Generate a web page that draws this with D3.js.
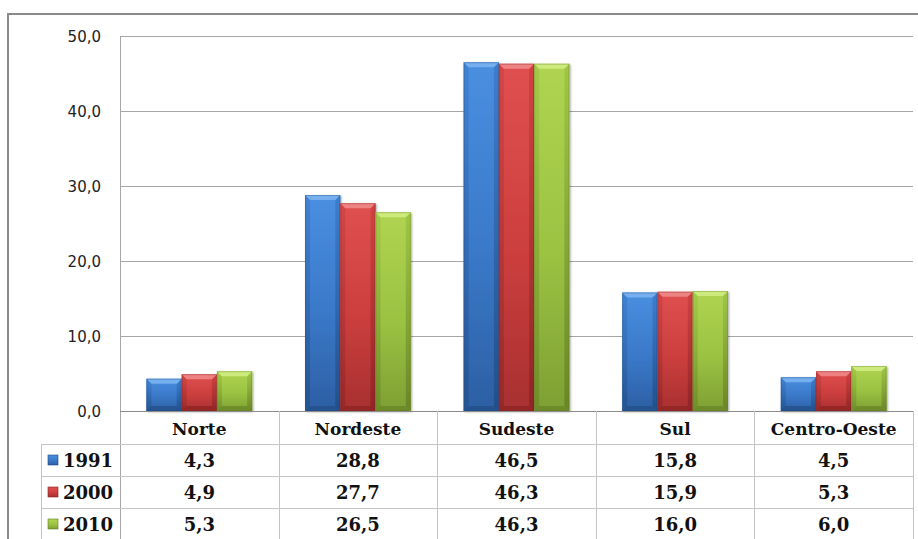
<!DOCTYPE html>
<html>
<head>
<meta charset="utf-8">
<script src="https://cdn.jsdelivr.net/npm/d3@7"></script>
<style>
  html, body { margin: 0; padding: 0; background: #fff; }
  svg { display: block; }
</style>
</head>
<body>
<svg id="chart" width="918" height="539"></svg>
<script>
// Regional share by year (%)
const regions = ["Norte", "Nordeste", "Sudeste", "Sul", "Centro-Oeste"];
const years = ["1991", "2000", "2010"];
const values1991 = [4.3, 28.8, 46.5, 15.8, 4.5];
const values2000 = [4.9, 27.7, 46.3, 15.9, 5.3];
const values2010 = [5.3, 26.5, 46.3, 16.0, 6.0];
const yTicks = [0, 10, 20, 30, 40, 50];

const seriesValues = [values1991, values2000, values2010];
const palette = [
  { top: "#4a8fe0", mid: "#3a78c8", bot: "#2c5fa3", edge: "#1f4a82", cap: "#7ab2f0" },
  { top: "#e05050", mid: "#cc3e3e", bot: "#a83030", edge: "#862222", cap: "#f08888" },
  { top: "#b0d452", mid: "#9bc242", bot: "#7e9f33", edge: "#627d24", cap: "#d0ec80" }
];

const svg = d3.select("#chart");
const plot = { left: 120, right: 913, top: 36, bottom: 411 };
const tableLeft = 41, rowH = 32;

const x = d3.scaleBand().domain(regions).range([plot.left, plot.right]).paddingInner(0).paddingOuter(0);
const xs = d3.scaleBand().domain(years).range([0, x.bandwidth()]).paddingInner(0).paddingOuter(0.75);
const y = d3.scaleLinear().domain([0, 50]).range([plot.bottom, plot.top]);
const fmt = v => d3.format(".1f")(v).replace(".", ",");

const defs = svg.append("defs");
palette.forEach((p, i) => {
  const g = defs.append("linearGradient").attr("id", "face" + i)
    .attr("x1", 0).attr("y1", 0).attr("x2", 0).attr("y2", 1);
  g.append("stop").attr("offset", "0%").attr("stop-color", p.top);
  g.append("stop").attr("offset", "55%").attr("stop-color", p.mid);
  g.append("stop").attr("offset", "100%").attr("stop-color", p.bot);
  const s = defs.append("linearGradient").attr("id", "side" + i)
    .attr("x1", 0).attr("y1", 0).attr("x2", 0).attr("y2", 1);
  s.append("stop").attr("offset", "0%").attr("stop-color", p.mid);
  s.append("stop").attr("offset", "100%").attr("stop-color", p.edge);
});
const sh = defs.append("filter").attr("id", "shadow").attr("x", "-20%").attr("y", "-20%").attr("width", "140%").attr("height", "140%");
sh.append("feDropShadow").attr("dx", 1).attr("dy", 1).attr("stdDeviation", 1.2).attr("flood-color", "#000").attr("flood-opacity", 0.35);

// outer frame
svg.append("path").attr("d", "M8,539 V14 H918")
  .attr("fill", "none").attr("stroke", "#8a8a8a").attr("stroke-width", 2);

// gridlines
svg.append("g").selectAll("line").data(yTicks.filter(t => t > 0)).join("line")
  .attr("x1", plot.left).attr("x2", plot.right)
  .attr("y1", d => Math.round(y(d)) + 0.5).attr("y2", d => Math.round(y(d)) + 0.5)
  .attr("stroke", "#a6a6a6").attr("stroke-width", 1);

// y axis labels
svg.append("g").selectAll("text").data(yTicks).join("text")
  .attr("x", 101).attr("y", d => y(d) + 1)
  .attr("text-anchor", "end").attr("dominant-baseline", "middle")
  .attr("font-family", "'DejaVu Sans', Verdana, sans-serif").attr("font-size", 15)
  .attr("fill", "#222").text(d => fmt(d));

// bars with bevelled faces
const bars = svg.append("g");
regions.forEach((r, ci) => {
  years.forEach((yr, si) => {
    const v = seriesValues[si][ci];
    const x0 = x(r) + xs(yr), w = xs.bandwidth();
    const y0 = y(v), y1 = y(0);
    const b = Math.min(5, (y1 - y0) / 3);
    const p = palette[si];
    const g = bars.append("g").attr("filter", "url(#shadow)");
    g.append("rect").attr("x", x0).attr("y", y0).attr("width", w).attr("height", y1 - y0)
      .attr("fill", `url(#face${si})`);
    // left and right bevel edges
    g.append("polygon").attr("points", [[x0, y0], [x0 + b, y0 + b], [x0 + b, y1 - b], [x0, y1]].join(" "))
      .attr("fill", `url(#side${si})`).attr("opacity", 0.55);
    g.append("polygon").attr("points", [[x0 + w, y0], [x0 + w - b, y0 + b], [x0 + w - b, y1 - b], [x0 + w, y1]].join(" "))
      .attr("fill", `url(#side${si})`).attr("opacity", 0.75);
    // top cap highlight
    g.append("polygon").attr("points", [[x0, y0], [x0 + w, y0], [x0 + w - b, y0 + b], [x0 + b, y0 + b]].join(" "))
      .attr("fill", p.cap).attr("opacity", 0.9);
    // bottom edge
    g.append("polygon").attr("points", [[x0, y1], [x0 + w, y1], [x0 + w - b, y1 - b], [x0 + b, y1 - b]].join(" "))
      .attr("fill", p.edge).attr("opacity", 0.6);
    g.append("rect").attr("x", x0 + 0.5).attr("y", y0 + 0.5).attr("width", w - 1).attr("height", y1 - y0 - 1)
      .attr("fill", "none").attr("stroke", p.edge).attr("stroke-opacity", 0.35);
  });
});

// plot left edge and baseline
svg.append("line").attr("x1", plot.left + 0.5).attr("x2", plot.left + 0.5)
  .attr("y1", plot.top).attr("y2", 539).attr("stroke", "#a6a6a6");
svg.append("line").attr("x1", plot.left).attr("x2", plot.right)
  .attr("y1", plot.bottom + 0.5).attr("y2", plot.bottom + 0.5).attr("stroke", "#8c8c8c");

// data table below the plot
const table = svg.append("g");
const gridStroke = "#c4c4c4";
const rowTop = i => plot.bottom + rowH * (i + 1) + 1;
years.forEach((yr, i) => {
  table.append("line").attr("x1", tableLeft).attr("x2", plot.right)
    .attr("y1", rowTop(i) + 0.5).attr("y2", rowTop(i) + 0.5).attr("stroke", gridStroke);
});
table.append("line").attr("x1", tableLeft + 0.5).attr("x2", tableLeft + 0.5)
  .attr("y1", rowTop(0)).attr("y2", 539).attr("stroke", gridStroke);
regions.forEach(r => {
  const xr = Math.round(x(r) + x.bandwidth()) + 0.5;
  table.append("line").attr("x1", xr).attr("x2", xr)
    .attr("y1", plot.bottom).attr("y2", 539).attr("stroke", gridStroke);
});

const serif = "'DejaVu Serif', 'Liberation Serif', serif";
table.selectAll("text.cat").data(regions).join("text").attr("class", "cat")
  .attr("x", d => x(d) + x.bandwidth() / 2).attr("y", plot.bottom + 24)
  .attr("text-anchor", "middle").attr("font-family", serif).attr("font-weight", "bold")
  .attr("font-size", 17).attr("fill", "#111").text(d => d);

years.forEach((yr, si) => {
  const cy = rowTop(si) + rowH / 2;
  const p = palette[si];
  table.append("rect").attr("x", 48).attr("y", cy - 5).attr("width", 10).attr("height", 10)
    .attr("fill", `url(#face${si})`).attr("stroke", p.edge).attr("stroke-width", 0.6);
  table.append("text").attr("x", 63).attr("y", cy + 7)
    .attr("font-family", serif).attr("font-weight", "bold").attr("font-size", 18)
    .attr("fill", "#111").text(yr);
  table.selectAll(null).data(regions).join("text")
    .attr("x", d => x(d) + x.bandwidth() / 2).attr("y", cy + 7)
    .attr("text-anchor", "middle").attr("font-family", serif).attr("font-weight", "bold")
    .attr("font-size", 18).attr("fill", "#111")
    .text((d, ci) => fmt(seriesValues[si][ci]));
});
</script>
</body>
</html>
